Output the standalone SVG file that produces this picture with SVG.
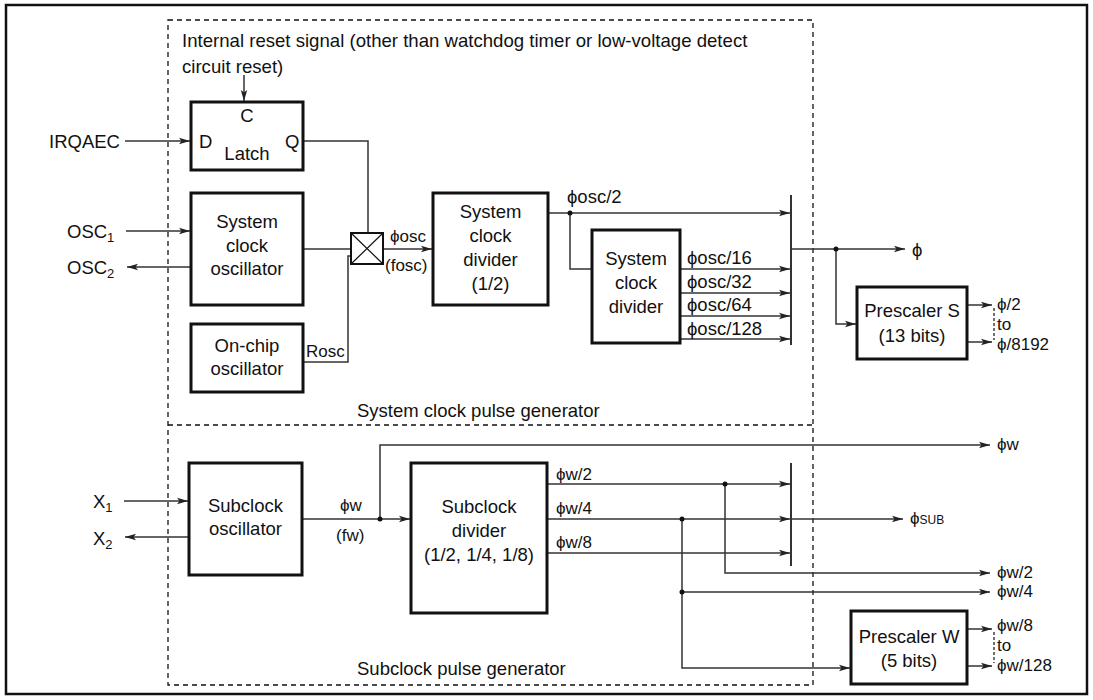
<svg xmlns="http://www.w3.org/2000/svg" width="1093" height="700" viewBox="0 0 1093 700">
<defs>
<marker id="arr" markerWidth="12" markerHeight="8" refX="11" refY="4" orient="auto" markerUnits="userSpaceOnUse"><path d="M0,0.8 L11,4 L0,7.2 L2.5,4 Z" fill="#222"/></marker>
</defs>
<style>
.box{fill:#fff;stroke:#111;stroke-width:3}
.ln{fill:none;stroke:#333;stroke-width:1.5}
.ar{marker-end:url(#arr)}
.bar{fill:none;stroke:#333;stroke-width:2}
.dash{fill:none;stroke:#111;stroke-width:1.3;stroke-dasharray:5 4}
.sdash{fill:none;stroke:#111;stroke-width:1.2;stroke-dasharray:3 2}
.dot{fill:#111}
text{font-family:"Liberation Sans",Arial,sans-serif;font-size:18.5px;fill:#111}
.t{font-size:18.6px}
.c{text-anchor:middle}
.m{font-size:17px}
.sub{font-size:13px}
.sc{font-size:12px}
</style>
<rect x="0" y="0" width="1093" height="700" fill="#fff"/>
<rect x="6" y="5" width="1081" height="689" fill="none" stroke="#111" stroke-width="2.5"/>
<g id="frames">
<rect class="dash" x="168" y="20" width="645" height="665"/>
<line class="dash" x1="168" y1="425" x2="813" y2="425"/>
<text class="t" x="182" y="47">Internal reset signal (other than watchdog timer or low-voltage detect</text>
<text class="t" x="182" y="73">circuit reset)</text>
<text x="357" y="417">System clock pulse generator</text>
<text x="357" y="675">Subclock pulse generator</text>
</g>
<g id="connectors">
<path class="ln ar" d="M244,75 V101"/>
<path class="ln ar" d="M125,141 H190"/>
<path class="ln" d="M303,141 H368 V233"/>
<path class="ln ar" d="M126,231 H190"/>
<path class="ln ar" d="M191,267 H127"/>
<path class="ln" d="M303,249 H351"/>
<path class="ln" d="M303,362 H348 V256 H351"/>
<path class="ln ar" d="M383,249 H432"/>
<path class="ln ar" d="M548,213 H790"/>
<path class="ln" d="M570,213 V269 H592"/>
<path class="ln ar" d="M680,269 H790"/>
<path class="ln ar" d="M680,293 H790"/>
<path class="ln ar" d="M680,316 H790"/>
<path class="ln ar" d="M680,339 H790"/>
<path class="ln ar" d="M791,249 H905"/>
<path class="ln ar" d="M836,249 V324 H856"/>
<path class="ln ar" d="M967,305 H992"/>
<path class="ln ar" d="M967,342 H992"/>
<path class="sdash" d="M994,308 V340"/>
<circle class="dot" cx="570" cy="213" r="2.5"/>
<circle class="dot" cx="836" cy="249" r="2.5"/>
<path class="ln ar" d="M124,501 H188"/>
<path class="ln ar" d="M189,537 H125"/>
<path class="ln ar" d="M302,519 H410"/>
<path class="ln ar" d="M380,519 V445 H990"/>
<path class="ln ar" d="M547,484 H790"/>
<path class="ln ar" d="M547,519 H790"/>
<path class="ln ar" d="M547,553 H790"/>
<path class="ln ar" d="M791,519 H903"/>
<path class="ln ar" d="M725,484 V573 H990"/>
<path class="ln ar" d="M682,519 V668 H850"/>
<path class="ln ar" d="M682,592 H990"/>
<path class="ln ar" d="M967,629 H992"/>
<path class="ln ar" d="M967,666 H992"/>
<path class="sdash" d="M994,632 V663"/>
<circle class="dot" cx="380" cy="519" r="2.5"/>
<circle class="dot" cx="725" cy="484" r="2.5"/>
<circle class="dot" cx="682" cy="519" r="2.5"/>
<circle class="dot" cx="682" cy="592" r="2.5"/>
<line class="bar" x1="791" y1="195" x2="791" y2="345"/>
<line class="bar" x1="791" y1="463" x2="791" y2="566"/>
</g>
<g id="labels">
<text x="49" y="148">IRQAEC</text>
<text x="67" y="238">OSC<tspan class="sub" dy="4">1</tspan></text>
<text x="67" y="274">OSC<tspan class="sub" dy="4">2</tspan></text>
<text class="m" x="390" y="242">ϕosc</text>
<text class="m" x="385" y="271">(fosc)</text>
<text class="m" x="306" y="357">Rosc</text>
<text x="567" y="203">ϕosc/2</text>
<text x="687" y="264">ϕosc/16</text>
<text x="687" y="288">ϕosc/32</text>
<text x="687" y="311">ϕosc/64</text>
<text x="687" y="335">ϕosc/128</text>
<text x="912" y="256">ϕ</text>
<text class="m" x="997" y="310">ϕ/2</text>
<text class="m" x="997" y="330">to</text>
<text class="m" x="997" y="350">ϕ/8192</text>
<text x="93" y="508">X<tspan class="sub" dy="4">1</tspan></text>
<text x="93" y="545">X<tspan class="sub" dy="4">2</tspan></text>
<text class="m" x="340" y="511">ϕw</text>
<text class="m" x="336" y="541">(fw)</text>
<text class="m" x="556" y="480">ϕw/2</text>
<text class="m" x="556" y="514">ϕw/4</text>
<text class="m" x="556" y="548">ϕw/8</text>
<text class="m" x="997" y="450">ϕw</text>
<text class="m" x="910" y="524">ϕ<tspan class="sc">SUB</tspan></text>
<text class="m" x="997" y="578">ϕw/2</text>
<text class="m" x="997" y="597">ϕw/4</text>
<text class="m" x="997" y="631">ϕw/8</text>
<text class="m" x="997" y="651">to</text>
<text class="m" x="997" y="671">ϕw/128</text>
</g>
<g id="latch">
<rect class="box" x="191" y="102" width="112" height="68"/>
<text class="c" x="247" y="122">C</text>
<text x="199" y="148">D</text>
<text x="285" y="148">Q</text>
<text class="c" x="247" y="160">Latch</text>
</g>
<g id="sysosc">
<rect class="box" x="191" y="193" width="112" height="112"/>
<text class="c" x="247" y="228">System</text>
<text class="c" x="247" y="252">clock</text>
<text class="c" x="247" y="275">oscillator</text>
</g>
<g id="onchip">
<rect class="box" x="191" y="324" width="112" height="68"/>
<text class="c" x="247" y="352">On-chip</text>
<text class="c" x="247" y="375">oscillator</text>
</g>
<g id="switch">
<rect x="351" y="233" width="32" height="31" fill="#fff" stroke="#111" stroke-width="2"/>
<path d="M351,233 L383,264 M383,233 L351,264" stroke="#111" stroke-width="1.2"/>
</g>
<g id="div2">
<rect class="box" x="433" y="193" width="115" height="112"/>
<text class="c" x="490.5" y="218">System</text>
<text class="c" x="490.5" y="242">clock</text>
<text class="c" x="490.5" y="266">divider</text>
<text class="c" x="490.5" y="290">(1/2)</text>
</g>
<g id="sysdiv">
<rect class="box" x="592" y="230" width="88" height="113"/>
<text class="c" x="636" y="265">System</text>
<text class="c" x="636" y="289">clock</text>
<text class="c" x="636" y="313">divider</text>
</g>
<g id="prescS">
<rect class="box" x="857" y="287" width="110" height="72"/>
<text class="c" x="912" y="317">Prescaler S</text>
<text class="c" x="912" y="342">(13 bits)</text>
</g>
<g id="subosc">
<rect class="box" x="189" y="463" width="113" height="112"/>
<text class="c" x="245.5" y="512">Subclock</text>
<text class="c" x="245.5" y="535">oscillator</text>
</g>
<g id="subdiv">
<rect class="box" x="411" y="463" width="136" height="150"/>
<text class="c" x="479" y="513">Subclock</text>
<text class="c" x="479" y="537">divider</text>
<text class="c" x="479" y="561">(1/2, 1/4, 1/8)</text>
</g>
<g id="prescW">
<rect class="box" x="851" y="611" width="116" height="73"/>
<text class="c" x="909" y="643">Prescaler W</text>
<text class="c" x="909" y="667">(5 bits)</text>
</g>
</svg>
